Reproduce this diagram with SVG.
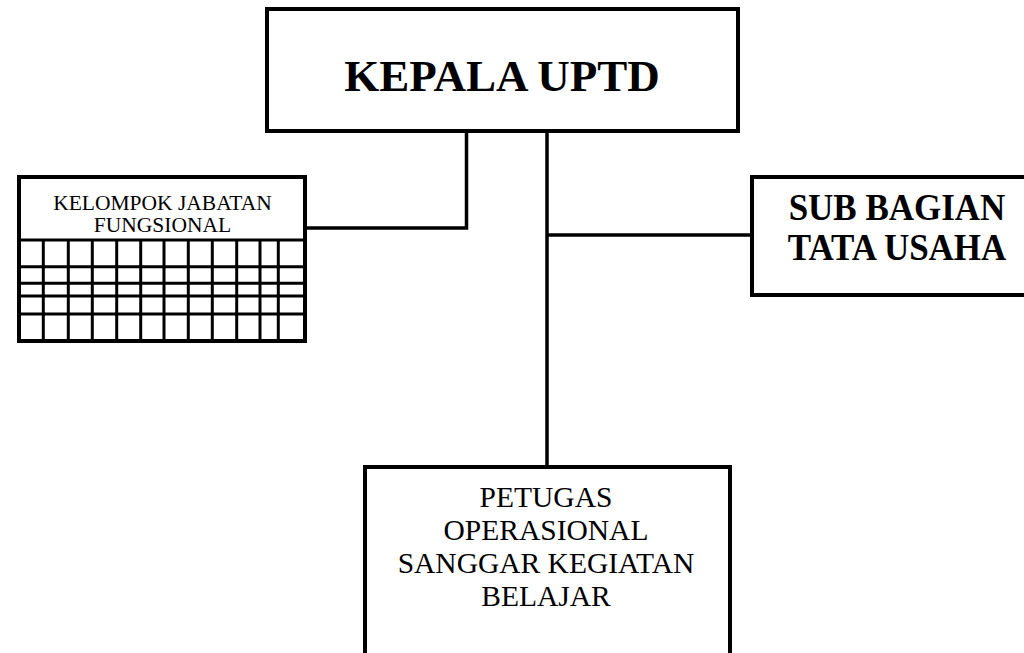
<svg xmlns="http://www.w3.org/2000/svg" width="1024" height="653" viewBox="0 0 1024 653">
<style>
.box{fill:#fff;stroke:#000;stroke-width:4}
.line{fill:none;stroke:#000;stroke-width:3.5}
.grid{fill:none;stroke:#000;stroke-width:3}
.tb{font-family:"Liberation Serif","Times New Roman",serif;font-weight:bold;fill:#000;text-anchor:middle}
.tr{font-family:"Liberation Serif","Times New Roman",serif;fill:#000;text-anchor:middle}
</style>
<rect width="1024" height="653" fill="#fff"/>
<g id="connectors">
<polyline class="line" points="466.5,133 466.5,228 307,228"/>
<line class="line" x1="547" y1="133" x2="547" y2="466"/>
<line class="line" x1="547" y1="235" x2="751" y2="235"/>
</g>
<g id="kepala">
<rect class="box" x="267" y="9" width="471" height="122"/>
<text class="tb" x="502" y="91" font-size="45">KEPALA UPTD</text>
</g>
<g id="kelompok">
<rect class="box" x="19" y="177" width="286" height="164"/>
<path class="grid" d="M19,240H305M19,266.7H305M19,283.3H305M19,296H305M19,314H305M43.3,240V341M68.3,240V341M92.3,240V341M116.7,240V341M140.7,240V341M164,240V341M188.3,240V341M212.3,240V341M236.7,240V341M260,240V341M278.3,240V341"/>
<text class="tr" x="162.5" y="209.5" font-size="21.5">KELOMPOK JABATAN</text>
<text class="tr" x="162.5" y="232" font-size="21.5">FUNGSIONAL</text>
</g>
<g id="subbagian">
<rect class="box" x="752" y="177" width="300" height="118"/>
<g transform="translate(897,0) scale(1,1.08)">
<text class="tb" x="0" y="203.7" font-size="35">SUB BAGIAN</text>
<text class="tb" x="0" y="240.7" font-size="35">TATA USAHA</text>
</g>
</g>
<g id="petugas">
<rect class="box" x="365" y="467" width="365" height="220"/>
<text class="tr" x="546" y="506.5" font-size="29.5">PETUGAS</text>
<text class="tr" x="546" y="540" font-size="29.5">OPERASIONAL</text>
<text class="tr" x="546" y="573" font-size="29.5">SANGGAR KEGIATAN</text>
<text class="tr" x="546" y="606" font-size="29.5">BELAJAR</text>
</g>
</svg>
